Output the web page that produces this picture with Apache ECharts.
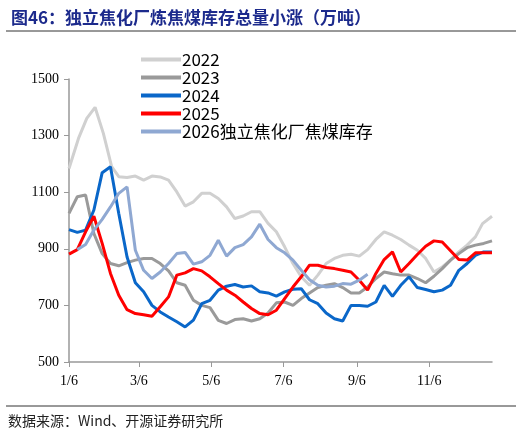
<!DOCTYPE html>
<html><head><meta charset="utf-8">
<script src="https://cdn.jsdelivr.net/npm/echarts@6/dist/echarts.min.js"></script>
<style>html,body{margin:0;padding:0;background:#fff}#c{width:522px;height:436px}</style>
</head><body><div id="c"></div>
<script>
// 横轴：1/6 起的天数
var tickDays = [0, 59, 120, 181, 243, 304];
var tickLabels = ['1/6', '3/6', '5/6', '7/6', '9/6', '11/6'];

var d2022 = [[0,1184],[8,1290],[15,1361],[22,1400],[29,1308],[36,1190],[42,1155],[49,1152],[56,1157],[63,1143],[70,1157],[77,1154],[84,1143],[91,1101],[98,1051],[105,1066],[112,1096],[119,1096],[126,1078],[133,1048],[140,1007],[147,1016],[154,1031],[161,1031],[168,990],[175,960],[182,907],[189,848],[196,801],[203,771],[210,807],[217,848],[224,866],[231,877],[238,881],[245,874],[252,897],[259,933],[266,960],[273,948],[280,933],[287,913],[294,895],[301,866],[308,818],[315,836],[322,860],[329,889],[336,913],[343,942],[349,989],[357,1015]];
var d2023 = [[0,1025],[7,1084],[14,1090],[21,954],[28,883],[35,848],[42,840],[49,851],[56,860],[63,866],[70,866],[77,848],[84,822],[91,780],[98,771],[105,718],[112,700],[119,692],[126,647],[133,636],[140,650],[147,653],[154,645],[161,653],[168,673],[175,709],[182,712],[189,700],[196,724],[203,744],[210,763],[217,771],[224,777],[231,763],[238,744],[245,744],[252,765],[259,795],[266,818],[273,812],[280,807],[287,807],[294,795],[301,780],[308,803],[315,830],[322,860],[329,883],[336,904],[343,913],[350,919],[357,928]];
var d2024 = [[0,968],[7,958],[14,966],[21,1037],[28,1169],[35,1190],[42,1025],[49,871],[56,780],[63,748],[70,700],[77,677],[84,659],[91,642],[98,624],[105,648],[112,706],[119,718],[126,754],[133,768],[140,774],[147,765],[154,769],[161,748],[168,744],[175,733],[182,748],[189,757],[196,759],[203,720],[210,706],[217,673],[224,653],[231,645],[238,700],[245,700],[252,697],[259,712],[266,771],[273,732],[280,771],[287,801],[294,763],[301,756],[308,748],[315,754],[322,771],[329,824],[336,848],[343,877],[350,889],[357,889]];
var d2025 = [[0,881],[7,897],[14,960],[21,1015],[28,919],[35,813],[42,736],[49,685],[56,671],[63,667],[70,662],[77,695],[84,730],[91,807],[98,815],[105,830],[112,822],[119,801],[126,777],[133,754],[140,736],[147,712],[154,689],[161,671],[168,667],[175,683],[182,724],[189,765],[196,801],[203,842],[210,842],[217,834],[224,830],[231,824],[238,818],[245,789],[252,754],[259,813],[266,862],[273,889],[280,818],[287,848],[294,880],[301,909],[308,928],[315,924],[322,893],[329,862],[336,860],[343,886],[350,886],[357,886]];
var d2026 = [[7,897],[14,915],[21,966],[28,1004],[35,1048],[42,1096],[49,1119],[56,895],[63,824],[70,795],[77,818],[84,848],[91,883],[98,887],[105,846],[112,854],[119,877],[126,930],[133,874],[140,904],[147,915],[154,942],[161,987],[168,933],[175,904],[182,886],[189,860],[196,824],[203,791],[210,771],[217,765],[224,768],[231,777],[238,775],[245,789],[252,810]];

var names = ['2022', '2023', '2024', '2025', '2026独立焦化厂焦煤库存'];
var colors = ['#d0d0d0', '#9a9a9a', '#0a67c9', '#ff0000', '#8fa8d2'];
var datas = [d2022, d2023, d2024, d2025, d2026];

var chart = echarts.init(document.getElementById('c'));
chart.setOption({
    animation: false,
    color: colors,
    title: {
        text: '图46：独立焦化厂炼焦煤库存总量小涨（万吨）',
        left: 6, top: 4,
        textStyle: {color: '#1c2a8c', fontSize: 17, fontWeight: 'bold', fontFamily: 'Noto Sans CJK SC'}
    },
    graphic: [
        {type: 'line', shape: {x1: 6, y1: 31, x2: 516, y2: 31}, style: {stroke: '#333', lineWidth: 1}},
        {type: 'line', shape: {x1: 6, y1: 406, x2: 516, y2: 406}, style: {stroke: '#333', lineWidth: 1}},
        {type: 'text', left: 8, top: 414, style: {text: '数据来源：Wind、开源证券研究所', fill: '#222', font: '14px "Noto Sans CJK SC"'}}
    ],
    legend: {
        orient: 'vertical', left: 136, top: 46, itemGap: 1,
        itemWidth: 40, itemHeight: 4, icon: 'rect',
        textStyle: {fontSize: 17, color: '#000', padding: [0, 0, 0, -4], fontFamily: 'Noto Sans CJK SC'},
        data: names
    },
    grid: {left: 69, top: 79, right: 30, bottom: 74},
    xAxis: {
        type: 'value', min: 0, max: 357,
        splitLine: {show: false},
        axisLine: {lineStyle: {color: '#999', width: 1.5}},
        axisTick: {customValues: tickDays, length: 5, lineStyle: {color: '#999'}},
        axisLabel: {
            customValues: tickDays, color: '#000', fontSize: 14, fontFamily: 'Liberation Serif', margin: 12,
            formatter: function (v) { return tickLabels[tickDays.indexOf(v)]; }
        }
    },
    yAxis: {
        type: 'value', min: 500, max: 1500, interval: 200,
        splitLine: {show: false},
        axisLine: {show: true, lineStyle: {color: '#999', width: 1.5}},
        axisTick: {show: true, length: 5, lineStyle: {color: '#999'}},
        axisLabel: {color: '#000', fontSize: 14, fontFamily: 'Liberation Serif', margin: 10,
            formatter: function (v) { return String(v); }}
    },
    series: names.map(function (n, i) {
        return {
            name: n, type: 'line', data: datas[i], showSymbol: false,
            lineStyle: {width: 3, color: colors[i]}, z: i + 2
        };
    })
});
</script>
</body></html>
